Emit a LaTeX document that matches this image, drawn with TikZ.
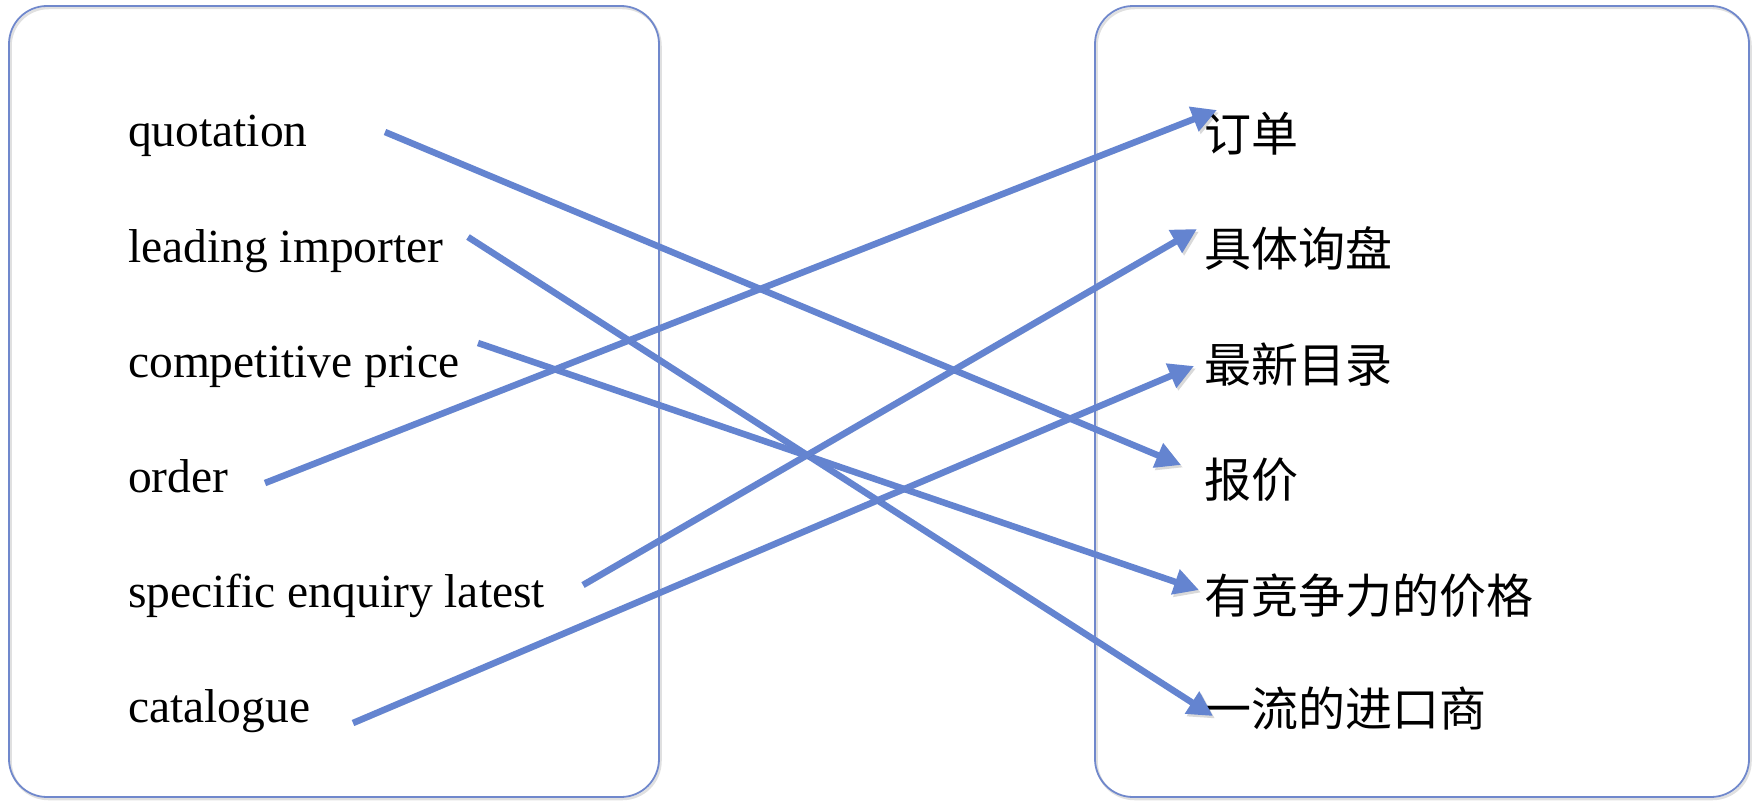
\documentclass[tikz,border=0pt]{standalone}
\usepackage{fontspec}
\setmainfont{Liberation Serif}
\newfontfamily\cjk{Noto Sans CJK SC}
\usetikzlibrary{arrows.meta}
\definecolor{linkblue}{RGB}{100,132,208}
\definecolor{boxblue}{RGB}{112,136,204}
\begin{document}
\begin{tikzpicture}[x=1pt,y=-1pt,
  panel/.style={draw=boxblue, line width=1.8pt, rounded corners=38pt,
    preaction={draw=black, opacity=0.12, line width=2.5pt, transform canvas={shift={(1.5pt,-2pt)}}}},
  term/.style={anchor=base west, inner sep=0pt, font=\fontsize{47.5}{55}\selectfont},
  gloss/.style={anchor=base west, inner sep=0pt, font=\fontsize{47}{55}\selectfont\cjk},
  link/.style={draw=linkblue, line width=6.5pt, -{Triangle[length=25pt,width=25pt]},
    preaction={draw=black, opacity=0.15, transform canvas={shift={(2pt,-2.5pt)}}}}
]
\useasboundingbox (0,0) rectangle (1752,800);
\fill[white] (0,0) rectangle (1752,800);
\draw[panel] (9,6) rectangle (659,797);
\draw[panel] (1095,6) rectangle (1749,797);

\node[term] (q)  at (128,146) {quotation};
\node[term] (li) at (128,262) {leading importer};
\node[term] (cp) at (128,377) {competitive price};
\node[term] (od) at (128,492) {order};
\node[term] (se) at (128,607) {specific enquiry latest};
\node[term] (ct) at (128,722) {catalogue};

\node[gloss] (dd) at (1204,151) {订单};
\node[gloss] (jt) at (1204,266) {具体询盘};
\node[gloss] (zx) at (1204,382) {最新目录};
\node[gloss] (bj) at (1204,497) {报价};
\node[gloss] (jz) at (1204,613) {有竞争力的价格};
\node[gloss] (yl) at (1204,726) {一流的进口商};

\coordinate (qs)  at (385,132);  \coordinate (bje) at (1181,465);
\coordinate (lis) at (468,237);  \coordinate (yle) at (1213,716);
\coordinate (cps) at (478,343);  \coordinate (jze) at (1199,590);
\coordinate (ods) at (265,483);  \coordinate (dde) at (1217,110);
\coordinate (ses) at (583,585);  \coordinate (jte) at (1197,229);
\coordinate (cts) at (353,723);  \coordinate (zxe) at (1194,366);

\draw[link] (qs) -- (bje);
\draw[link] (lis) -- (yle);
\draw[link] (cps) -- (jze);
\draw[link] (ods) -- (dde);
\draw[link] (ses) -- (jte);
\draw[link] (cts) -- (zxe);
\end{tikzpicture}
\end{document}
